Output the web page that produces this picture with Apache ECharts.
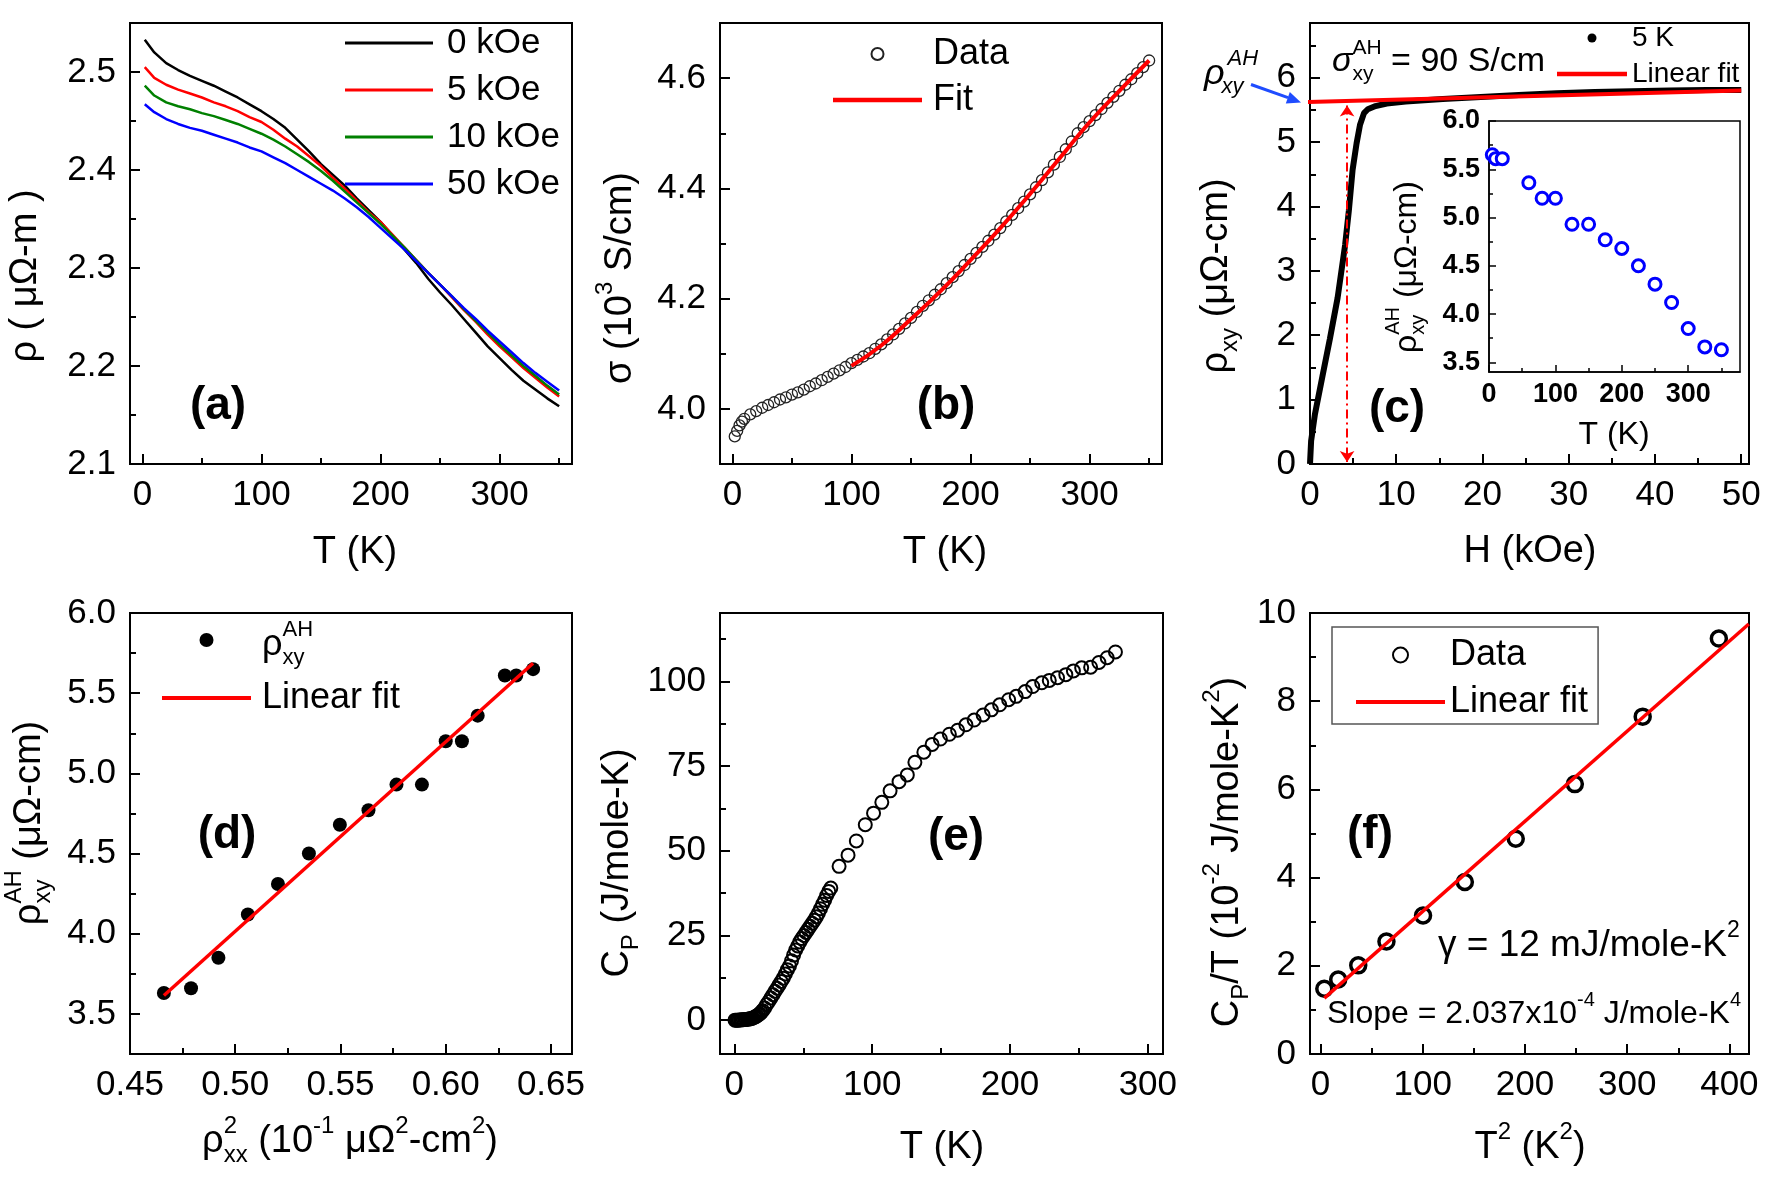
<!DOCTYPE html>
<html>
<head>
<meta charset="utf-8">
<script src="https://cdn.jsdelivr.net/npm/echarts@6/dist/echarts.min.js"></script>
<style>
  html, body { margin: 0; background: #fff; }
  #main { width: 1773px; height: 1182px; }
</style>
</head>
<body>
<div id="main"></div>
<script>
var FONT = 'Liberation Sans';

// (a) resistivity vs T for four fields
var tempA = [2, 10, 20, 30, 40, 50, 60, 70, 80, 90, 100, 110, 120, 130, 140, 150, 160, 170, 180, 190, 200, 210, 220, 230, 240, 250, 260, 270, 280, 290, 300, 310, 320, 330, 340, 350];
var rho0 = [2.533, 2.520, 2.509, 2.502, 2.496, 2.491, 2.486, 2.480, 2.474, 2.467, 2.460, 2.452, 2.443, 2.431, 2.419, 2.406, 2.395, 2.384, 2.371, 2.359, 2.347, 2.333, 2.319, 2.305, 2.289, 2.275, 2.262, 2.248, 2.234, 2.220, 2.208, 2.196, 2.185, 2.176, 2.167, 2.159];
var rho5 = [2.505, 2.494, 2.487, 2.482, 2.478, 2.474, 2.469, 2.465, 2.460, 2.454, 2.449, 2.441, 2.432, 2.424, 2.414, 2.404, 2.392, 2.381, 2.369, 2.357, 2.347, 2.334, 2.321, 2.308, 2.295, 2.283, 2.270, 2.257, 2.245, 2.232, 2.220, 2.209, 2.198, 2.188, 2.178, 2.169];
var rho10 = [2.486, 2.476, 2.469, 2.465, 2.462, 2.458, 2.455, 2.451, 2.447, 2.442, 2.437, 2.431, 2.424, 2.416, 2.408, 2.399, 2.389, 2.378, 2.367, 2.356, 2.345, 2.333, 2.321, 2.308, 2.295, 2.283, 2.271, 2.258, 2.246, 2.234, 2.222, 2.211, 2.200, 2.190, 2.180, 2.171];
var rho50 = [2.467, 2.459, 2.452, 2.447, 2.443, 2.440, 2.436, 2.432, 2.428, 2.423, 2.419, 2.413, 2.407, 2.400, 2.393, 2.386, 2.379, 2.371, 2.362, 2.352, 2.341, 2.330, 2.319, 2.307, 2.295, 2.283, 2.271, 2.259, 2.248, 2.236, 2.225, 2.214, 2.203, 2.193, 2.184, 2.175];

// (b) conductivity
var tempB = [2, 4, 6, 8, 10, 15, 20, 25, 30, 35, 40, 45, 50, 55, 60, 65, 70, 75, 80, 85, 90, 95, 100, 105, 110, 115, 120, 125, 130, 135, 140, 145, 150, 155, 160, 165, 170, 175, 180, 185, 190, 195, 200, 205, 210, 215, 220, 225, 230, 235, 240, 245, 250, 255, 260, 265, 270, 275, 280, 285, 290, 295, 300, 305, 310, 315, 320, 325, 330, 335, 340, 345, 350];
var sigmaB = [3.950, 3.960, 3.970, 3.977, 3.982, 3.990, 3.996, 4.002, 4.007, 4.012, 4.017, 4.021, 4.026, 4.030, 4.035, 4.041, 4.046, 4.052, 4.058, 4.064, 4.070, 4.076, 4.083, 4.089, 4.095, 4.101, 4.109, 4.117, 4.126, 4.135, 4.145, 4.155, 4.165, 4.176, 4.187, 4.197, 4.207, 4.217, 4.228, 4.239, 4.250, 4.261, 4.272, 4.283, 4.294, 4.305, 4.316, 4.328, 4.340, 4.352, 4.364, 4.376, 4.389, 4.402, 4.415, 4.429, 4.443, 4.457, 4.471, 4.485, 4.500, 4.511, 4.522, 4.533, 4.544, 4.555, 4.566, 4.577, 4.588, 4.598, 4.609, 4.620, 4.632];
var tempFitB = [100, 125, 150, 175, 200, 225, 250, 275, 300, 325, 350];
var sigmaFitB = [4.078, 4.115, 4.163, 4.214, 4.270, 4.328, 4.390, 4.455, 4.520, 4.577, 4.632];

// (c) Hall resistivity at 5 K
var fieldC = [0, 0.13, 0.57, 1.44, 2.3, 3.2, 4.07, 4.5, 4.94, 5.4, 5.8, 6.26, 6.7, 7.6, 8.9, 11.1, 15.4, 19.8, 24.2, 28.6, 33, 37.3, 41.7, 46, 50];
var rhoXY = [0, 0.36, 0.77, 1.36, 1.94, 2.58, 3.40, 3.93, 4.57, 4.98, 5.27, 5.45, 5.51, 5.56, 5.60, 5.63, 5.67, 5.70, 5.73, 5.76, 5.78, 5.79, 5.80, 5.81, 5.81];
var fieldFitC = [-1.1, 50];
var rhoFitC = [5.62, 5.80];
var fieldMarkC = 4.3;

// (c) inset and (d): anomalous Hall resistivity
var tempInset = [5, 10, 20, 60, 80, 100, 125, 150, 175, 200, 225, 250, 275, 300, 325, 350];
var rhoAH = [5.65, 5.61, 5.61, 5.36, 5.20, 5.20, 4.93, 4.93, 4.77, 4.68, 4.50, 4.31, 4.12, 3.85, 3.66, 3.63];
var rhoXX2 = [0.6415, 0.6335, 0.6281, 0.6152, 0.6077, 0.6000, 0.5887, 0.5766, 0.5633, 0.5497, 0.5350, 0.5203, 0.5060, 0.4920, 0.4790, 0.4661];
var fitXD = [0.4661, 0.6415];
var fitYD = [3.615, 5.687];

// (e) heat capacity
var tempE = [0.5, 1.5, 2.5, 3.5, 4.5, 5.5, 6.5, 7.5, 8.5, 9.5, 10.5, 11.5, 12.5, 13.5, 14.5, 15.5, 16.5, 17.5, 18.5, 19.5, 20.5, 22, 23.5, 25, 26.5, 28, 29.5, 31, 32.5, 34, 35.5, 37, 38.5, 40, 41.5, 43, 44.5, 46, 47.5, 49, 50.5, 52, 53.5, 55, 56.5, 58, 59.5, 61, 62.5, 64, 65.5, 67, 68.5, 70,
  76, 82.5, 88.5, 95, 101, 107, 113, 119.5, 125.5, 131, 137.5, 143.5, 149.5, 156, 162, 168, 174, 180.5, 186.5, 192.5, 199, 204.5, 211, 216.5, 223, 228.5, 234.5, 240.5, 246, 252, 258.5, 264.5, 270.5, 276.5];
var cpE = [0, 0, 0, 0.05, 0.05, 0.1, 0.1, 0.15, 0.2, 0.25, 0.3, 0.4, 0.5, 0.65, 0.85, 1.05, 1.3, 1.6, 1.9, 2.3, 2.8, 3.6, 4.6, 5.5, 6.5, 7.5, 8.5, 9.4, 10.4, 11.4, 12.4, 13.6, 14.9, 16.0, 17.5, 19.2, 20.7, 21.9, 23.1, 24.1, 25.0, 25.9, 26.8, 27.7, 28.6, 29.5, 30.5, 31.6, 32.9, 34.2, 35.4, 36.8, 38.0, 39.0,
  45.4, 48.7, 52.9, 57.7, 61.1, 64.3, 67.7, 70.4, 72.4, 76.1, 79.1, 81.4, 83.0, 84.4, 85.6, 87.2, 88.6, 90.1, 91.6, 93.1, 94.6, 95.6, 97.0, 98.5, 99.6, 100.3, 101.1, 102.0, 103.1, 104.0, 104.2, 105.6, 107.0, 108.7];

// (f) Cp/T vs T^2
var t2F = [3.7, 17.3, 36.9, 64.5, 100.3, 141.2, 191, 248.8, 315.2, 389.7];
var cpTF = [1.48, 1.69, 2.01, 2.55, 3.14, 3.90, 4.88, 6.12, 7.65, 9.42];
var fitXF = [3.7, 419];
var fitYF = [1.267, 9.75];

function pair(xs, ys) {
  return xs.map(function (x, i) { return [x, ys[i]]; });
}

var grids = [
  { left: 130, top: 23, width: 442, height: 441 },
  { left: 720, top: 23, width: 442, height: 441 },
  { left: 1310, top: 23, width: 439, height: 441 },
  { left: 1489, top: 121, width: 251, height: 251, backgroundColor: '#fff', borderWidth: 1.5 },
  { left: 130, top: 613, width: 442, height: 441 },
  { left: 720, top: 613, width: 443, height: 441 },
  { left: 1310, top: 613, width: 439, height: 441 }
].map(function (g) {
  return Object.assign({ show: true, borderColor: '#000', borderWidth: 2, containLabel: false }, g);
});

var xAxes = [], yAxes = [];
var LAB = { size: 35, margin: 14 };
var INS = { size: 27, weight: 'bold', margin: 9 };

// main axis carries labels and major ticks, a twin axis carries the minor ticks
function axes(list, gi, min, max, major, minor, fmt, pos, lab) {
  var thin = lab === INS ? 1.5 : 2;
  list.push({
    type: 'value', gridIndex: gi, position: pos, min: min, max: max,
    splitLine: { show: false },
    axisLine: { onZero: false, lineStyle: { color: '#000', width: thin } },
    axisTick: { inside: true, length: lab === INS ? 7 : 10, customValues: major, lineStyle: { color: '#000', width: thin } },
    axisLabel: { customValues: major, formatter: fmt, color: '#000', fontSize: lab.size, fontWeight: lab.weight || 'normal', fontFamily: FONT, margin: lab.margin }
  });
  list.push({
    type: 'value', gridIndex: gi, position: pos, min: min, max: max,
    splitLine: { show: false },
    axisLine: { show: false, onZero: false },
    axisTick: { inside: true, length: lab === INS ? 4 : 6, customValues: minor, lineStyle: { color: '#000', width: thin } },
    axisLabel: { show: false }
  });
  return list.length - 2;
}
var f0 = function (v) { return String(Math.round(v)); };
var f1 = function (v) { return v.toFixed(1); };
var f2 = function (v) { return v.toFixed(2); };

var ax = {
  a: { x: axes(xAxes, 0, -10.4, 360.8, [0, 100, 200, 300], [50, 150, 250, 350], f0, 'bottom', LAB),
       y: axes(yAxes, 0, 2.1, 2.55, [2.1, 2.2, 2.3, 2.4, 2.5], [2.15, 2.25, 2.35, 2.45], f1, 'left', LAB) },
  b: { x: axes(xAxes, 1, -10.4, 360.8, [0, 100, 200, 300], [50, 150, 250, 350], f0, 'bottom', LAB),
       y: axes(yAxes, 1, 3.9, 4.7, [4.0, 4.2, 4.4, 4.6], [4.1, 4.3, 4.5], f1, 'left', LAB) },
  c: { x: axes(xAxes, 2, 0, 50.9, [0, 10, 20, 30, 40, 50], [5, 15, 25, 35, 45], f0, 'bottom', LAB),
       y: axes(yAxes, 2, 0, 6.85, [0, 1, 2, 3, 4, 5, 6], [0.5, 1.5, 2.5, 3.5, 4.5, 5.5, 6.5], f0, 'left', LAB) },
  i: { x: axes(xAxes, 3, 0, 378, [0, 100, 200, 300], [50, 150, 250, 350], f0, 'bottom', INS),
       y: axes(yAxes, 3, 3.4, 6.0, [3.5, 4.0, 4.5, 5.0, 5.5, 6.0], [3.75, 4.25, 4.75, 5.25, 5.75], f1, 'left', INS) },
  d: { x: axes(xAxes, 4, 0.45, 0.66, [0.45, 0.50, 0.55, 0.60, 0.65], [0.475, 0.525, 0.575, 0.625], f2, 'bottom', LAB),
       y: axes(yAxes, 4, 3.25, 6.0, [3.5, 4.0, 4.5, 5.0, 5.5, 6.0], [3.75, 4.25, 4.75, 5.25, 5.75], f1, 'left', LAB) },
  e: { x: axes(xAxes, 5, -10.4, 311, [0, 100, 200, 300], [50, 150, 250], f0, 'bottom', LAB),
       y: axes(yAxes, 5, -10, 120.2, [0, 25, 50, 75, 100], [12.5, 37.5, 62.5, 87.5, 112.5], f0, 'left', LAB) },
  f: { x: axes(xAxes, 6, -10.3, 419.2, [0, 100, 200, 300, 400], [50, 150, 250, 350], f0, 'bottom', LAB),
       y: axes(yAxes, 6, 0, 10, [0, 2, 4, 6, 8, 10], [1, 3, 5, 7, 9], f0, 'left', LAB) }
};

var RED = '#ff0000', GREEN = '#008000', BLUE = '#0000ff';

function line(name, p, data, color, width, extra) {
  return Object.assign({
    name: name, type: 'line', xAxisIndex: ax[p].x, yAxisIndex: ax[p].y, data: data,
    symbol: 'none', smooth: false, lineStyle: { color: color, width: width }, itemStyle: { color: color }
  }, extra || {});
}
function dots(name, p, data, size, fill, stroke, bw) {
  return {
    name: name, type: 'scatter', xAxisIndex: ax[p].x, yAxisIndex: ax[p].y, data: data,
    symbol: 'circle', symbolSize: size,
    itemStyle: { color: fill, borderColor: stroke, borderWidth: bw, opacity: 1 }
  };
}

var series = [
  line('0 kOe', 'a', pair(tempA, rho0), '#000', 2.5),
  line('5 kOe', 'a', pair(tempA, rho5), RED, 2.5),
  line('10 kOe', 'a', pair(tempA, rho10), GREEN, 2.5),
  line('50 kOe', 'a', pair(tempA, rho50), BLUE, 2.5),

  dots('bData', 'b', pair(tempB, sigmaB), 11, 'rgba(255,255,255,0)', '#222', 1.3),
  line('bFit', 'b', pair(tempFitB, sigmaFitB), RED, 4, { smooth: true }),

  line('c5K', 'c', pair(fieldC, rhoXY), '#000', 6),
  line('cFit', 'c', pair(fieldFitC, rhoFitC), RED, 4, {
    clip: false,
    markLine: {
      silent: true, symbol: ['arrow', 'arrow'], symbolSize: 11,
      label: { show: false },
      lineStyle: { color: RED, width: 2, type: [9, 4, 2, 4] },
      data: [[{ coord: [fieldMarkC, 5.57] }, { coord: [fieldMarkC, 0.03] }]]
    }
  }),
  dots('iData', 'i', pair(tempInset, rhoAH), 12, '#fff', BLUE, 3),

  dots('dData', 'd', pair(rhoXX2, rhoAH), 14, '#000', '#000', 0),
  line('dFit', 'd', pair(fitXD, fitYD), RED, 3.5),

  dots('eData', 'e', pair(tempE, cpE), 13, 'rgba(255,255,255,0)', '#000', 2),

  dots('fData', 'f', pair(t2F, cpTF), 15, 'rgba(255,255,255,0)', '#000', 3.5),
  line('fFit', 'f', pair(fitXF, fitYF), RED, 3.5)
];

var legendText = { bData: 'Data', bFit: 'Fit', c5K: '5 K', cFit: 'Linear fit', dData: '\u00a0', dFit: 'Linear fit', fData: 'Data', fFit: 'Linear fit' };
function legendFmt(n) { return legendText[n] !== undefined ? legendText[n] : n; }
function bar(w, t) { return 'path://M0,0h' + w + 'v' + t + 'h-' + w + 'z'; }
function legend(o) {
  return Object.assign({
    orient: 'vertical', selectedMode: false, padding: 0, formatter: legendFmt,
    textStyle: { color: '#000', fontFamily: FONT, fontSize: o.fs, lineHeight: o.lh, padding: [0, 0, 0, o.tp || 0] }
  }, o);
}
var legends = [
  legend({ left: 345, top: 25, itemWidth: 88, itemHeight: 20, itemGap: 11, fs: 35, lh: 36, tp: 9,
    data: [{ name: '0 kOe', icon: bar(88, 3) }, { name: '5 kOe', icon: bar(88, 3) }, { name: '10 kOe', icon: bar(88, 3) }, { name: '50 kOe', icon: bar(88, 3) }] }),
  legend({ left: 833, top: 35, itemWidth: 89, itemHeight: 12, itemGap: 8, fs: 36, lh: 38, tp: 6,
    data: ['bData', { name: 'bFit', icon: bar(89, 4.5) }] }),
  legend({ left: 1557, top: 23, itemWidth: 70, itemHeight: 9, itemGap: 6, fs: 28, lh: 30,
    data: [{ name: 'c5K', icon: 'circle' }, { name: 'cFit', icon: bar(70, 4.5) }] }),
  legend({ left: 162, top: 618, itemWidth: 89, itemHeight: 14, itemGap: 14, fs: 36, lh: 44, tp: 6,
    data: ['dData', { name: 'dFit', icon: bar(89, 4) }] }),
  legend({ left: 1332, top: 627, itemWidth: 89, itemHeight: 15, itemGap: 9, fs: 36, lh: 38,
    padding: [9, 10, 3, 24], borderColor: '#555', borderWidth: 1.5,
    data: ['fData', { name: 'fFit', icon: bar(89, 4) }] })
];

// text with stacked super/subscripts, measured so the pieces sit side by side
var mctx = document.createElement('canvas').getContext('2d');
function tw(s, size, italic, bold) {
  mctx.font = (italic ? 'italic ' : '') + (bold ? 'bold ' : '') + size + 'px "' + FONT + '"';
  return mctx.measureText(s).width;
}
function txt(s, x, y, size, italic, bold) {
  return { type: 'text', x: x, y: y, style: {
    text: s, fontSize: size, fontFamily: FONT, fontStyle: italic ? 'italic' : 'normal',
    fontWeight: bold ? 'bold' : 'normal', fill: '#000',
    align: 'left', verticalAlign: 'middle', textAlign: 'left', textVerticalAlign: 'middle' } };
}
function scripted(segs, o) {
  var size = o.size, small = Math.round(size * 0.62), kids = [], x = 0;
  segs.forEach(function (s) {
    var it = s[3] === 'i' || s[3] === 'I', all = s[3] === 'I';
    if (s[0]) { kids.push(txt(s[0], x, 0, size, it)); x += tw(s[0], size, it); }
    var w = 0;
    if (s[1]) { kids.push(txt(s[1], x + (all ? 3 : 0), -size * 0.42, small, all)); w = tw(s[1], small, all) + (all ? 3 : 0); }
    if (s[2]) { kids.push(txt(s[2], x - (all ? 3 : 0), size * 0.36, small, all)); w = Math.max(w, tw(s[2], small, all)); }
    x += w;
  });
  var shift = o.align === 'left' ? 0 : -x / 2;
  kids.forEach(function (k) { k.x += shift; });
  return { type: 'group', x: o.x, y: o.y, rotation: o.rot || 0, children: kids };
}
var UP = Math.PI / 2;

function txtC(s, x, y) {
  return { type: 'text', x: x, y: y, style: {
    text: s, fontSize: 46, fontWeight: 'bold', fontFamily: FONT, fill: '#000',
    align: 'center', verticalAlign: 'middle', textAlign: 'center', textVerticalAlign: 'middle' } };
}

var graphics = [
  // axis titles
  scripted([['ρ ( μΩ-m )']], { x: 26, y: 276, size: 38, rot: UP }),
  scripted([['T (K)']], { x: 355, y: 553, size: 38 }),
  scripted([['σ (10', '3'], [' S/cm)']], { x: 621, y: 278, size: 38, rot: UP }),
  scripted([['T (K)']], { x: 945, y: 553, size: 38 }),
  scripted([['ρ', '', 'xy'], [' (μΩ-cm)']], { x: 1217, y: 276, size: 38, rot: UP }),
  scripted([['H (kOe)']], { x: 1530, y: 552, size: 38 }),
  scripted([['ρ', 'AH', 'xy'], [' (μΩ-cm)']], { x: 1407, y: 267, size: 32, rot: UP }),
  scripted([['T (K)']], { x: 1614, y: 435, size: 32 }),
  scripted([['ρ', 'AH', 'xy'], [' (μΩ-cm)']], { x: 30, y: 823, size: 38, rot: UP }),
  scripted([['ρ', '2', 'xx'], [' (10', '-1'], [' μΩ', '2'], ['-cm', '2'], [')']], { x: 350, y: 1142, size: 38 }),
  scripted([['C', '', 'P'], [' (J/mole-K)']], { x: 618, y: 863, size: 38, rot: UP }),
  scripted([['T (K)']], { x: 942, y: 1148, size: 38 }),
  scripted([['C', '', 'P'], ['/T (10', '-2'], [' J/mole-K', '2'], [')']], { x: 1228, y: 852, size: 38, rot: UP }),
  scripted([['T', '2'], [' (K', '2'], [')']], { x: 1530, y: 1148, size: 38 }),

  // panel tags
  txtC('(a)', 218, 406), txtC('(b)', 946, 406), txtC('(c)', 1397, 409),
  txtC('(d)', 227, 835), txtC('(e)', 956, 837), txtC('(f)', 1370, 835),

  // annotations
  scripted([['ρ', 'AH', 'xy', 'I']], { x: 1204, y: 74, size: 36, align: 'left' }),
  scripted([['σ', 'AH', 'xy', 'i'], [' = 90 S/cm']], { x: 1332, y: 62, size: 34, align: 'left' }),
  scripted([['ρ', 'AH', 'xy']], { x: 262, y: 645, size: 36, align: 'left' }),
  scripted([['γ = 12 mJ/mole-K', '2']], { x: 1438, y: 946, size: 37, align: 'left' }),
  scripted([['Slope = 2.037x10', '-4'], [' J/mole-K', '4']], { x: 1327, y: 1014, size: 32, align: 'left' }),

  // blue arrow pointing at the intercept
  { type: 'line', shape: { x1: 1251, y1: 84.5, x2: 1288, y2: 97.7 }, style: { stroke: '#1f4cff', lineWidth: 3 } },
  { type: 'polygon', shape: { points: [[1301, 102.5], [1285.8, 103.6], [1289.8, 92.0]] }, style: { fill: '#1f4cff' } }
];

var chart = echarts.init(document.getElementById('main'), null, { renderer: 'canvas' });
chart.setOption({
  backgroundColor: '#fff',
  animation: false,
  textStyle: { fontFamily: FONT },
  grid: grids,
  xAxis: xAxes,
  yAxis: yAxes,
  legend: legends,
  series: series,
  graphic: graphics
});
</script>
</body>
</html>
